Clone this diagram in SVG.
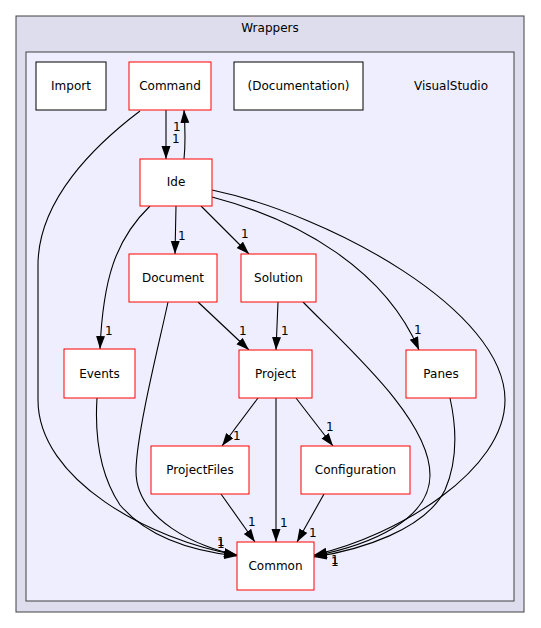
<svg xmlns="http://www.w3.org/2000/svg" width="541" height="628" viewBox="0 0 541 628">
<style>
text{font-family:"DejaVu Sans","Liberation Sans",sans-serif;font-size:12px;fill:#000}
.lbl{text-anchor:middle}
.n rect{fill:#fff;stroke:#ff0000;stroke-width:1}
.n.plain rect{stroke:#000}
.e{fill:none;stroke:#000;stroke-width:1.1}
.el{font-size:12px}
</style>
<defs>
<marker id="ah" markerUnits="userSpaceOnUse" markerWidth="14" markerHeight="10" refX="13" refY="4.5" orient="auto">
<path d="M0,0 L13,4.5 L0,9 Z" fill="#000"/>
</marker>
</defs>
<g id="cluster-Wrappers">
<rect x="16" y="16" width="508" height="596" fill="#ddddee" stroke="#404040"/>
<text class="lbl" x="270" y="32">Wrappers</text>
</g>
<g id="cluster-VisualStudio">
<rect x="26" y="52" width="488" height="549" fill="#eeeeff" stroke="#404040"/>
<text class="lbl" x="451" y="90">VisualStudio</text>
</g>
<g id="connectors">
<path class="e" marker-end="url(#ah)" d="M140,111 C95,145 38,200 38,265 L38,400 C38,480 150,540 237,555"/>
<path class="e" marker-end="url(#ah)" d="M166,110 L166,159"/>
<path class="e" marker-end="url(#ah)" d="M184,159 C186,140 185,125 184,110"/>
<path class="e" marker-end="url(#ah)" d="M176,206 L175,254"/>
<path class="e" marker-end="url(#ah)" d="M201,206 L249,254"/>
<path class="e" marker-end="url(#ah)" d="M150,206 C115,240 103,280 100,349"/>
<path class="e" marker-end="url(#ah)" d="M212,197 C300,220 385,270 419,350"/>
<path class="e" marker-end="url(#ah)" d="M212,190 C330,215 505,310 505,400 C505,470 400,535 314,555"/>
<path class="e" marker-end="url(#ah)" d="M198,302 L249,350"/>
<path class="e" marker-end="url(#ah)" d="M168,302 C160,340 137,430 136,470 C135,520 200,548 237,555"/>
<path class="e" marker-end="url(#ah)" d="M278,302 L276,350"/>
<path class="e" marker-end="url(#ah)" d="M303,302 C350,350 430,420 430,475 C430,520 370,545 314,556"/>
<path class="e" marker-end="url(#ah)" d="M97,398 C95,430 97,470 120,505 C150,540 200,552 237,556"/>
<path class="e" marker-end="url(#ah)" d="M450,398 C456,425 458,460 445,490 C425,530 360,550 314,557"/>
<path class="e" marker-end="url(#ah)" d="M258,398 L222,446"/>
<path class="e" marker-end="url(#ah)" d="M296,398 L333,446"/>
<path class="e" marker-end="url(#ah)" d="M276,398 L276,542"/>
<path class="e" marker-end="url(#ah)" d="M221,494 L255,542"/>
<path class="e" marker-end="url(#ah)" d="M324,494 L297,542"/>
<text class="el" x="173" y="131">1</text>
<text class="el" x="172" y="143">1</text>
<text class="el" x="178" y="240">1</text>
<text class="el" x="241" y="238">1</text>
<text class="el" x="105" y="335">1</text>
<text class="el" x="414" y="334">1</text>
<text class="el" x="239" y="335">1</text>
<text class="el" x="281" y="335">1</text>
<text class="el" x="233" y="440">1</text>
<text class="el" x="326" y="431">1</text>
<text class="el" x="280" y="527">1</text>
<text class="el" x="248" y="526">1</text>
<text class="el" x="309" y="537">1</text>
<text class="el" x="217" y="546">1</text>
<text class="el" x="217" y="548">1</text>
<text class="el" x="331" y="564">1</text>
<text class="el" x="331" y="566">1</text>
</g>
<g id="node-Import" class="n plain"><rect x="36" y="62" width="70" height="48"/><text class="lbl" x="71" y="90">Import</text></g>
<g id="node-Command" class="n"><rect x="129" y="62" width="82" height="48"/><text class="lbl" x="170" y="90">Command</text></g>
<g id="node-Documentation" class="n plain"><rect x="234" y="62" width="129" height="48"/><text class="lbl" x="298.5" y="90">(Documentation)</text></g>
<g id="node-Ide" class="n"><rect x="140" y="159" width="72" height="47"/><text class="lbl" x="176" y="186">Ide</text></g>
<g id="node-Document" class="n"><rect x="129" y="254" width="88" height="48"/><text class="lbl" x="173" y="282">Document</text></g>
<g id="node-Solution" class="n"><rect x="241" y="254" width="75" height="48"/><text class="lbl" x="278.5" y="282">Solution</text></g>
<g id="node-Events" class="n"><rect x="64" y="349" width="71" height="49"/><text class="lbl" x="99.5" y="378">Events</text></g>
<g id="node-Project" class="n"><rect x="239" y="350" width="73" height="48"/><text class="lbl" x="275.5" y="378">Project</text></g>
<g id="node-Panes" class="n"><rect x="406" y="350" width="70" height="48"/><text class="lbl" x="441" y="378">Panes</text></g>
<g id="node-ProjectFiles" class="n"><rect x="151" y="446" width="98" height="48"/><text class="lbl" x="200" y="474">ProjectFiles</text></g>
<g id="node-Configuration" class="n"><rect x="301" y="446" width="109" height="48"/><text class="lbl" x="355.5" y="474">Configuration</text></g>
<g id="node-Common" class="n"><rect x="237" y="542" width="77" height="48"/><text class="lbl" x="275.5" y="570">Common</text></g>
</svg>
